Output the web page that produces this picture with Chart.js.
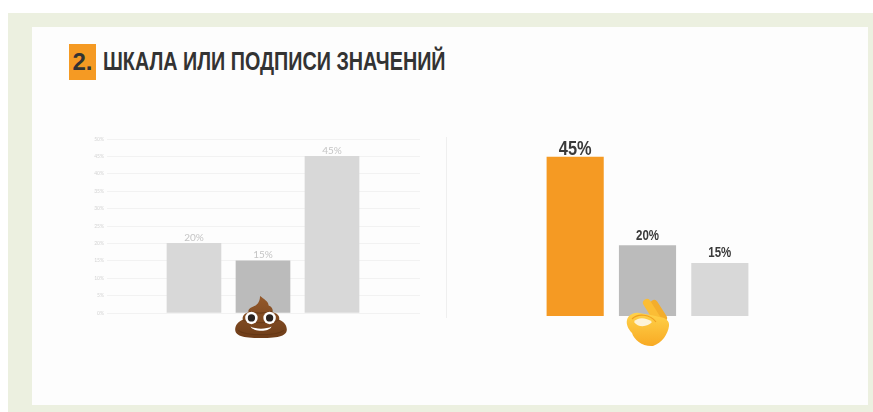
<!DOCTYPE html>
<html lang="ru">
<head>
<meta charset="utf-8">
<title>Шкала или подписи значений</title>
<script src="https://cdn.jsdelivr.net/npm/chart.js@4"></script>
<style>
  html, body { margin: 0; padding: 0; background: #fff; }
  #page { position: relative; width: 873px; height: 412px; overflow: hidden; background: #fff; }
  #band { position: absolute; left: 8px; top: 13px; width: 865px; height: 399px; background: #ecf0e0; }
  #panel { position: absolute; left: 32px; top: 27px; width: 836px; height: 378px; background: #fdfdfd; }
  #num { position: absolute; left: 69px; top: 44px; width: 27px; height: 36px; background: #f59a23;
         font: bold 24px/35px "Liberation Sans", sans-serif; color: #333; text-align: center; }
  /* no condensed face is available, so the heading is narrowed by hand */
  #title { position: absolute; left: 103px; top: 45px; height: 36px; white-space: nowrap;
           font: bold 25px/32px "Liberation Sans", sans-serif; color: #333;
           transform: scaleX(.79); transform-origin: 0 0; }
  #divider { position: absolute; left: 446px; top: 137px; width: 1px; height: 181px; background: #efefef; }
  canvas { position: absolute; }
  #leftChart { left: 80px; top: 130px; }
  #rightChart { left: 539px; top: 130px; }
  svg { position: absolute; }
</style>
</head>
<body>
<div id="page">
  <div id="band"></div>
  <div id="panel"></div>
  <div id="num">2.</div>
  <div id="title">ШКАЛА ИЛИ ПОДПИСИ ЗНАЧЕНИЙ</div>
  <div id="divider"></div>
  <canvas id="leftChart" width="345" height="189"></canvas>
  <canvas id="rightChart" width="217" height="186"></canvas>

  <!-- poop emoji -->
  <svg style="left:233px;top:295px" width="56" height="44" viewBox="0 0 56 46">
    <defs>
      <linearGradient id="poopFill" x1="0" y1="0" x2="0" y2="1">
        <stop offset="0" stop-color="#94592b"/>
        <stop offset="1" stop-color="#6e3d19"/>
      </linearGradient>
    </defs>
    <path d="M27 1c4 3 9 6 9 10 3 1 5 4 4 7 5 1 8 4 7 8 5 2 8 6 8 10 0 6-7 9-27 9S1 42 1 36c0-4 3-8 8-10-1-4 2-7 6-8-1-3 2-5 5-6 3-1 7-4 7-11z" fill="url(#poopFill)"/>
    <path d="M16 17c6 3 17 2 24 0M9 26c5 4 32 4 38 0M4 37c8 6 40 6 48 0" stroke="#5b3212" stroke-width="1.2" fill="none" opacity=".6"/>
    <circle cx="18" cy="24" r="6.5" fill="#fff"/><circle cx="37" cy="24" r="6.5" fill="#fff"/>
    <circle cx="18" cy="24" r="3.8" fill="#2a2320"/><circle cx="37" cy="24" r="3.8" fill="#2a2320"/>
    <path d="M17 33c5 3 17 3 22 0-2 6-19 6-22 0z" fill="#fff"/>
  </svg>

  <!-- ok hand emoji -->
  <svg style="left:625px;top:297px" width="46" height="50" viewBox="0 0 46 50">
    <defs>
      <linearGradient id="handFill" x1="0" y1="0" x2="0" y2="1">
        <stop offset="0" stop-color="#ffd24a"/>
        <stop offset="1" stop-color="#f8aa24"/>
      </linearGradient>
    </defs>
    <path d="M29 7L38 21" stroke="#f3ad2c" stroke-width="8" stroke-linecap="round"/>
    <path d="M22 6L32 22" stroke="#fbbd35" stroke-width="8" stroke-linecap="round"/>
    <path d="M2 23C3 18 9 15 14 16C22 17 30 19 34 20C40 20 45 24 44 29C43 37 37 46 28 49C18 50 9 43 7 36C3 32 1 27 2 23Z" fill="url(#handFill)"/>
    <path d="M9 25C12 20 21 20 27 25C23 30 13 31 9 25Z" fill="#fdf3d8"/>
    <path d="M7 22C13 16 25 17 31 25" stroke="#f0a020" stroke-width="1.2" fill="none"/>
  </svg>
</div>

<script>
// Chart values
const leftValues = [20, 15, 45]
const rightValues = [45, 20, 15]
const rightCategories = ['A', 'B', 'C']
const scaleMax = 50
const scaleStep = 5

// Colours per bar
const leftColors = ['#d8d8d8', '#bbbbbb', '#d8d8d8']
const rightColors = ['#f59a23', '#bbbbbb', '#d8d8d8']

// Writes "NN%" above each bar; narrow squeezes the text horizontally
function valueLabels(fonts, color, gaps, narrow) {
    return {
        id: 'valueLabels',
        afterDatasetsDraw(chart) {
            const ctx = chart.ctx
            const data = chart.data.datasets[0].data
            chart.getDatasetMeta(0).data.forEach((bar, i) => {
                const value = data[i].y !== undefined ? data[i].y : data[i]
                ctx.save()
                ctx.textAlign = 'center'
                ctx.textBaseline = 'alphabetic'
                ctx.font = fonts[i]
                ctx.fillStyle = color
                ctx.translate(bar.x, bar.y - gaps[i])
                ctx.scale(narrow, 1)
                ctx.fillText(value + '%', 0, 0)
                ctx.restore()
            })
        }
    }
}

// -------------------------------------------------------------------------- Left chart
new Chart(document.getElementById('leftChart'), {
    type: 'bar',
    data: {
        datasets: [{
            data: leftValues.map((v, i) => ({ x: i + 1, y: v })),
            backgroundColor: leftColors,
            barThickness: 54
        }]
    },
    options: {
        responsive: false,
        animation: false,
        layout: { padding: { top: 9, right: 5, bottom: 6 } },
        plugins: { legend: { display: false }, tooltip: { enabled: false } },
        scales: {
            x: { type: 'linear', display: false, offset: false, min: -0.26, max: 4.275 },
            y: {
                min: 0,
                max: scaleMax,
                afterFit(scale) { scale.width = 27 },
                border: { display: false },
                grid: { color: '#f2f2f2', drawTicks: false },
                ticks: {
                    stepSize: scaleStep,
                    padding: 3,
                    color: '#d4d4d4',
                    font: { family: 'Lato', size: 5 },
                    callback: v => v + '%'
                }
            }
        }
    },
    plugins: [valueLabels(['10px Lato', '10px Lato', '10px Lato'], '#c4c4c4', [2, 3, 2], 1)]
})

// -------------------------------------------------------------------------- Right chart
new Chart(document.getElementById('rightChart'), {
    type: 'bar',
    data: {
        labels: rightCategories,
        datasets: [{
            data: rightValues,
            backgroundColor: rightColors,
            categoryPercentage: 1,
            barPercentage: 0.79
        }]
    },
    options: {
        responsive: false,
        animation: false,
        layout: { padding: { top: 9 } },
        plugins: { legend: { display: false }, tooltip: { enabled: false } },
        scales: {
            x: { display: false },
            y: { display: false, min: 0, max: scaleMax }
        }
    },
    plugins: [valueLabels(
        ['bold 20px "Liberation Sans", sans-serif', 'bold 14px "Liberation Sans", sans-serif', 'bold 14px "Liberation Sans", sans-serif'],
        '#3a3a3a',
        [2, 5, 6],
        0.82
    )]
})
</script>
</body>
</html>
